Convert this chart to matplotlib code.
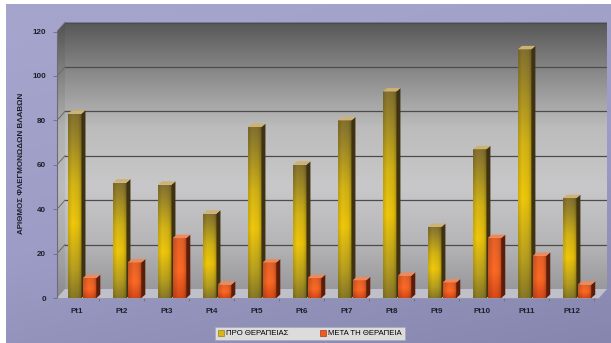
import numpy as np
import matplotlib
matplotlib.use('Agg')
import matplotlib.pyplot as plt
import matplotlib.patches as mpatches
from matplotlib.colors import LinearSegmentedColormap

plt.rcParams['font.family'] = ['Liberation Sans', 'DejaVu Sans']

patients = ['Pt1', 'Pt2', 'Pt3', 'Pt4', 'Pt5', 'Pt6', 'Pt7', 'Pt8', 'Pt9', 'Pt10', 'Pt11', 'Pt12']
before = [83, 52, 51, 38, 77, 60, 80, 93, 32, 67, 112, 45]
after = [9, 16, 27, 6, 16, 9, 8, 10, 7, 27, 19, 6]
label_before = 'ΠΡΟ ΘΕΡΑΠΕΙΑΣ'
label_after = 'ΜΕΤΑ ΤΗ ΘΕΡΑΠΕΙΑ'
y_title = 'ΑΡΙΘΜΟΣ ΦΛΕΓΜΟΝΩΔΩΝ ΒΛΑΒΩΝ'
y_ticks = [0, 20, 40, 60, 80, 100, 120]

W, H = 611, 343
XL, XR = -0.444, 11.78
YB, YT = -0.9, 126.1
PX_X = 45.0   # pixels per category
PX_Y = 2.22   # pixels per unit

# wall depth and bar depth, in data units
WDX, WDY = 8 / PX_X, 9 / PX_Y
BDX, BDY = 4 / PX_X, 3.4 / PX_Y
BAR_W = 0.30


def cmap_from(stops, name):
    return LinearSegmentedColormap.from_list(name, stops)


def shaded(vstops, hfac, n=128):
    vcol = cmap_from(vstops, 'v')(np.linspace(0, 1, n))[:, :3]
    xs = np.linspace(0, 1, 32)
    h = np.interp(xs, [p for p, _ in hfac], [f for _, f in hfac])
    return np.clip(vcol[:, None, :] * h[None, :, None], 0, 1)


fig = plt.figure(figsize=(W / 100, H / 100), dpi=100, facecolor='white')

# lavender backdrop
bg = fig.add_axes([6 / W, 0, 1 - 6 / W, 1 - 4 / H])
bg.set_axis_off()
gy = np.linspace(0, 1, 200)[:, None]
gx = np.linspace(0, 1, 200)[None, :]
bgcm = cmap_from([(0, '#8686ae'), (0.5, '#9c9cc6'), (1, '#a4a4cc')], 'bg')
bg.imshow(bgcm(np.clip(gy * 0.8 + (1 - gx) * 0.3, 0, 1)), aspect='auto',
          origin='lower', extent=[0, 1, 0, 1], interpolation='bicubic')
bg.set_xlim(0, 1)
bg.set_ylim(0, 1)

ax = fig.add_axes([57 / W, (H - 300) / H, (607 - 57) / W, 282 / H])
ax.set_xlim(XL, XR)
ax.set_ylim(YB, YT)
ax.patch.set_alpha(0)

# back and side wall with a vertical grey gradient
top = y_ticks[-1]
wall = mpatches.Polygon([(XL, 0), (XL, top), (XL + WDX, top + WDY), (XR, top + WDY),
                         (XR, WDY), (XL + WDX, WDY)], closed=True, fc='none', ec='none')
ax.add_patch(wall)
wallcm = cmap_from([(0, '#949498'), (0.2, '#b6b6b8'), (0.4, '#c8c8ca'), (0.62, '#bcbcbc'),
                    (0.8, '#8e8e8e'), (1, '#585858')], 'wall')
wim = ax.imshow(wallcm(np.linspace(0, 1, 256))[:, None, :], aspect='auto', origin='lower',
                extent=[XL, XR, 0, top + WDY], interpolation='bilinear', zorder=0)
wim.set_clip_path(wall)
ax.add_patch(mpatches.Polygon([(XL, 0), (XL, top), (XL + WDX, top + WDY), (XL + WDX, WDY)],
                              closed=True, fc='black', alpha=0.06, ec='none', zorder=0.5))

# floor
ax.add_patch(mpatches.Polygon([(XL, 0), (XL + WDX, WDY), (XR, WDY), (XR - WDX, 0)],
                              closed=True, fc='#c0c0ca', ec='none', zorder=0.6))

# gridlines on the back wall and their run along the side wall
for v in y_ticks[1:]:
    ax.plot([XL + WDX, XR], [v + WDY, v + WDY], color='#4c4c4c', lw=0.9, zorder=0.8)
    ax.plot([XL, XL + WDX], [v, v + WDY], color='#6a6a6a', lw=0.7, zorder=0.8)

x = np.arange(len(patients))

yellow_img = shaded([(0, '#8a7a26'), (0.15, '#b8a020'), (0.4, '#f0c80c'), (0.62, '#d6b616'),
                     (0.86, '#a08a28'), (1, '#857230')],
                    [(0, 0.86), (0.3, 1.0), (0.75, 0.95), (1, 0.74)])
orange_img = shaded([(0, '#d84a18'), (0.45, '#ff6a26'), (1, '#e86228')],
                    [(0, 0.82), (0.4, 1.0), (0.75, 0.95), (1, 0.72)])

series = [
    (before, -0.20, yellow_img, '#3e3212', '#cdb272'),
    (after, 0.13, orange_img, '#5c1c0a', '#ec8a5c'),
]

for i in range(len(patients)):
    for vals, off, img, side_c, top_c in series:
        h = vals[i]
        x0 = x[i] + off
        x1 = x0 + BAR_W
        bar = ax.bar(x0, h, width=BAR_W, align='edge', color='none', lw=0, zorder=2)[0]
        im = ax.imshow(img, aspect='auto', origin='lower', extent=[x0, x1, 0, h],
                       interpolation='bilinear', zorder=2)
        im.set_clip_path(bar)
        ax.add_patch(mpatches.Polygon([(x1, 0), (x1, h), (x1 + BDX, h + BDY), (x1 + BDX, BDY)],
                                      closed=True, fc=side_c, ec='none', zorder=2))
        ax.add_patch(mpatches.Polygon([(x0, h), (x1, h), (x1 + BDX, h + BDY), (x0 + BDX, h + BDY)],
                                      closed=True, fc=top_c, ec='none', zorder=2))

for s in ['top', 'right']:
    ax.spines[s].set_visible(False)
ax.spines['left'].set_bounds(0, top)
ax.spines['left'].set_color('#6c6c78')
ax.spines['left'].set_linewidth(0.8)
ax.spines['bottom'].set_position(('data', 0))
ax.spines['bottom'].set_bounds(XL, XR - WDX)
ax.spines['bottom'].set_color('#9a9aaa')
ax.spines['bottom'].set_linewidth(0.6)

ax.set_yticks(y_ticks)
ax.set_yticklabels([str(v) for v in y_ticks], fontsize=5.8, fontweight='bold', color='#1e1e2a')
ax.tick_params(axis='y', length=3, width=0.6, color='#6c6c78', pad=5)
ax.set_xticks(x)
ax.set_xticklabels(patients, fontsize=5.8, fontweight='bold', color='#1e1e2a')
ax.set_xticks(x + 0.49, minor=True)
ax.tick_params(axis='x', which='major', length=0, pad=7)
ax.tick_params(axis='x', which='minor', length=2, width=0.6, color='#6c6c78')

fig.text(22 / W, 1 - 163 / H, y_title, rotation=90, ha='center', va='center',
         fontsize=5.8, fontweight='bold', color='#1e1e2a')

handles = [mpatches.Patch(fc='#d8b414', ec='#7c6c18', lw=0.4, label=label_before),
           mpatches.Patch(fc='#f05a1e', ec='#8a2a0c', lw=0.4, label=label_after)]
leg = fig.legend(handles=handles, loc='center', bbox_to_anchor=(310 / W, 1 - 333.5 / H),
                 ncol=2, fontsize=5.6, frameon=True, fancybox=False, handlelength=0.8,
                 handleheight=0.8, handletextpad=0.3, columnspacing=4.0, borderpad=0.35)
leg.get_frame().set_facecolor('#dcdcdc')
leg.get_frame().set_edgecolor('#a8a8b8')
leg.get_frame().set_linewidth(0.5)
leg.get_frame().set_alpha(1)

fig.savefig('out.png', dpi=100, facecolor=fig.get_facecolor())
